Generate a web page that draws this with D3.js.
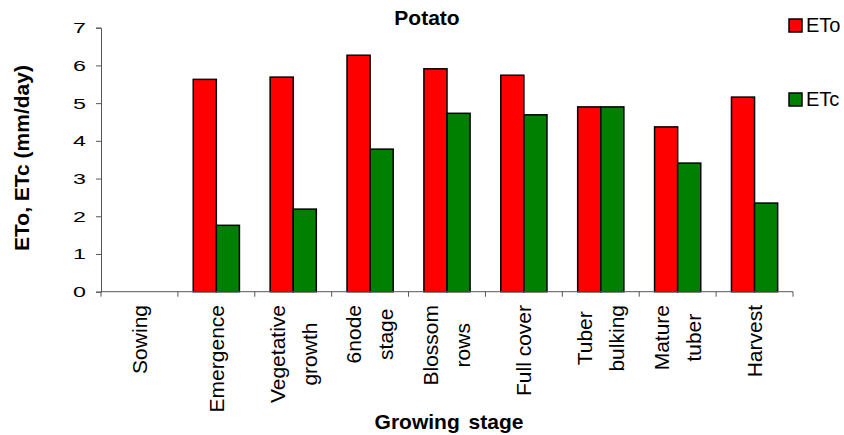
<!DOCTYPE html>
<html>
<head>
<meta charset="utf-8">
<script src="https://cdn.jsdelivr.net/npm/d3@7"></script>
<style>
  html, body { margin: 0; padding: 0; background: #fff; }
  svg { display: block; font-family: Arial, "Liberation Sans", sans-serif; }
</style>
</head>
<body>
<svg id="chart" width="844" height="435"></svg>
<script>
const categories = [
  ["Sowing"],
  ["Emergence"],
  ["Vegetative", "growth"],
  ["6node", "stage"],
  ["Blossom", "rows"],
  ["Full cover"],
  ["Tuber", "bulking"],
  ["Mature", "tuber"],
  ["Harvest"]
];
const seriesNames = ["ETo", "ETc"];
const seriesColors = ["#FF0000", "#008000"];
const etoValues = [0, 5.63, 5.69, 6.27, 5.91, 5.74, 4.90, 4.37, 5.16];
const etcValues = [0, 1.76, 2.19, 3.78, 4.73, 4.69, 4.90, 3.41, 2.35];
const yTicks = [0, 1, 2, 3, 4, 5, 6, 7];
const chartTitle = "Potato";
const xTitle = "Growing stage";
const yTitle = "ETo, ETc (mm/day)";

const svg = d3.select("#chart");
const mLeft = 101, mRight = 793, mTop = 27.7, mBottom = 291.7;

const catKeys = categories.map(c => c.join(" "));
const x0 = d3.scaleBand().domain(catKeys).range([mLeft, mRight]).paddingInner(0).paddingOuter(0);
const x1 = d3.scaleBand().domain(seriesNames).range([0, x0.bandwidth()]).paddingInner(0).paddingOuter(0.665);
const y = d3.scaleLinear().domain([0, 7]).range([mBottom, mTop]);

const rows = catKeys.map((k, i) => ({ key: k, values: [etoValues[i], etcValues[i]] }));

// bars
const g = svg.append("g");
rows.forEach(r => {
  r.values.forEach((v, si) => {
    if (v <= 0) return;
    g.append("rect")
      .attr("x", x0(r.key) + x1(seriesNames[si]))
      .attr("y", y(v))
      .attr("width", x1.bandwidth())
      .attr("height", y(0) - y(v))
      .attr("fill", seriesColors[si])
      .attr("stroke", "#000")
      .attr("stroke-width", 1.5);
  });
});

// y axis
const yAxis = svg.append("g")
  .attr("transform", `translate(${mLeft},0)`)
  .call(d3.axisLeft(y).tickValues(yTicks).tickSize(5).tickPadding(9).tickFormat(d3.format("d")));
yAxis.select(".domain").attr("stroke", "#555").attr("stroke-width", 1);
yAxis.selectAll(".tick line").attr("stroke", "#555");
yAxis.selectAll(".tick text")
  .attr("font-size", 15.5).attr("fill", "#000")
  .attr("font-family", "Arial, 'Liberation Sans', sans-serif")
  .attr("x", 0)
  .attr("transform", "translate(-15,0) scale(1.5,1)");

// x axis
const boundaries = catKeys.map(k => x0(k)).concat([mRight]);
const xAxisG = svg.append("g");
xAxisG.append("line").attr("x1", mLeft).attr("x2", mRight).attr("y1", y(0)).attr("y2", y(0))
  .attr("stroke", "#555").attr("stroke-width", 1);
xAxisG.selectAll("line.tk").data(boundaries).enter().append("line")
  .attr("class", "tk")
  .attr("x1", d => d).attr("x2", d => d)
  .attr("y1", y(0)).attr("y2", y(0) + 5)
  .attr("stroke", "#555");

// category labels (rotated)
const labelTop = 305;
const lineGap = 32;
categories.forEach((lines, i) => {
  const cx = x0(catKeys[i]) + x0.bandwidth() / 2;
  const grp = svg.append("g");
  const texts = lines.map((ln, li) => {
    const lx = cx + (li - (lines.length - 1) / 2) * lineGap;
    return grp.append("text")
      .attr("font-size", 21)
      .attr("fill", "#000")
      .attr("text-anchor", "middle")
      .attr("dy", "0.35em")
      .attr("data-x", lx)
      .text(ln);
  });
  const maxLen = d3.max(texts, t => t.node().getComputedTextLength());
  const cy = labelTop + maxLen / 2;
  texts.forEach(t => {
    const lx = +t.attr("data-x");
    t.attr("transform", `translate(${lx},${cy}) rotate(-90)`);
  });
});

// titles
svg.append("text").attr("x", 427).attr("y", 25).attr("text-anchor", "middle")
  .attr("font-size", 21).attr("font-weight", "bold").text(chartTitle);
svg.append("text").attr("x", 449).attr("y", 429).attr("text-anchor", "middle")
  .attr("font-size", 21).attr("font-weight", "bold").attr("word-spacing", 3).text(xTitle);
svg.append("text").attr("transform", `translate(29,158) rotate(-90)`).attr("text-anchor", "middle")
  .attr("font-size", 21).attr("font-weight", "bold").text(yTitle);

// legend
const legendY = [19, 93];
seriesNames.forEach((s, i) => {
  svg.append("rect").attr("x", 789).attr("y", legendY[i]).attr("width", 13).attr("height", 13)
    .attr("fill", seriesColors[i]).attr("stroke", "#000").attr("stroke-width", 1.5);
  svg.append("text").attr("x", 806).attr("y", legendY[i] + 13).attr("font-size", 20)
    .attr("fill", "#000").text(s);
});
</script>
</body>
</html>
